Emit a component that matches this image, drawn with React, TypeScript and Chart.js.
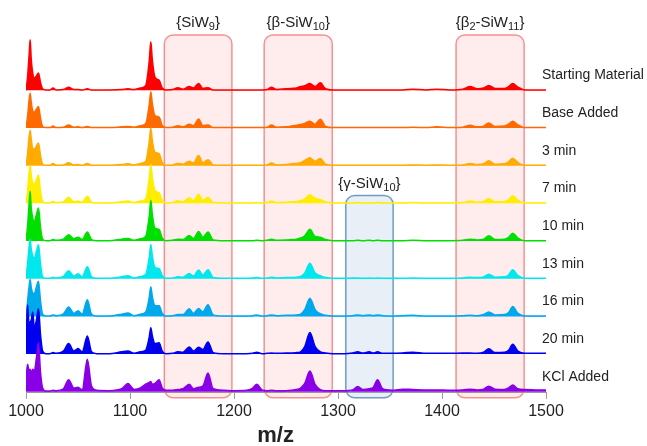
import React, { useEffect, useRef } from "react";
import { Chart, registerables } from "chart.js";
Chart.register(...registerables);

const FONT = "'Liberation Sans', Arial, Helvetica, sans-serif";

// m/z sample positions (shared by all traces)
const mzGrid = [
  1000, 1001.5, 1003, 1004, 1005, 1006.5, 1008, 1010, 1012, 1014, 1016, 1019,
  1023, 1026, 1029, 1036, 1041, 1046, 1050, 1054, 1059, 1063, 1068,
  1080, 1092, 1098, 1104, 1110, 1115, 1118.5, 1120, 1121.5, 1124, 1128, 1131, 1135,
  1141, 1146, 1151, 1157, 1161, 1166, 1170, 1175, 1180, 1190, 1200,
  1212, 1218, 1222, 1227, 1232, 1236, 1241, 1250, 1255, 1260, 1264, 1268, 1273, 1278, 1283, 1288, 1295,
  1306, 1314, 1319, 1324, 1330, 1334, 1338, 1343, 1352, 1362, 1372, 1385, 1395, 1408, 1420,
  1427, 1434, 1440, 1445, 1451, 1460, 1464, 1468, 1473, 1480, 1490, 1500,
];

const seriesLabels = [
  "Starting Material", "Base Added", "3 min", "7 min", "10 min",
  "13 min", "16 min", "20 min", "KCl Added",
];
const seriesColors = [
  "#ff0000", "#ff6a00", "#ffab00", "#ffee00", "#00e000",
  "#00e8ee", "#00a8ec", "#0000f0", "#8a00e6",
];
const seriesOffsets = [8, 7, 6, 5, 4, 3, 2, 1, 0];

// relative intensities (1 = spacing between traces)
const startingMaterial = [
  0, 0.35, 0.95, 1.34, 0.85, 0.45, 0.32, 0.38, 0.46, 0.2, 0.04, 0.01,
  0.01, 0.06, 0.01, 0.02, 0.08, 0.02, 0.02, 0.01, 0.04, 0.01, 0.01,
  0.01, 0.02, 0.04, 0.02, 0.06, 0.12, 0.78, 1.29, 0.8, 0.35, 0.27, 0.06, 0.01,
  0.02, 0.07, 0.03, 0.1, 0.06, 0.18, 0.05, 0.07, 0.01, 0.01, 0.01,
  0.01, 0.01, 0.01, 0.01, 0.02, 0.08, 0.02, 0.04, 0.05, 0.06, 0.1, 0.12, 0.18, 0.1, 0.2, 0.04, 0.01,
  0.01, 0.01, 0.01, 0.01, 0.01, 0.01, 0.01, 0.01, 0.01, 0.01, 0.03, 0.01, 0.03, 0.01, 0.03,
  0.1, 0.04, 0.06, 0.13, 0.05, 0.05, 0.1, 0.18, 0.08, 0.01, 0.01, 0.01,
];
const baseAdded = [
  0, 0.3, 0.75, 0.92, 0.7, 0.45, 0.42, 0.5, 0.57, 0.25, 0.04, 0.01,
  0.01, 0.05, 0.01, 0.02, 0.08, 0.02, 0.03, 0.01, 0.04, 0.01, 0.01,
  0.01, 0.03, 0.04, 0.02, 0.06, 0.11, 0.62, 0.96, 0.64, 0.33, 0.29, 0.07, 0.01,
  0.02, 0.06, 0.03, 0.1, 0.06, 0.24, 0.06, 0.08, 0.01, 0.01, 0.01,
  0.01, 0.01, 0.01, 0.01, 0.02, 0.08, 0.02, 0.03, 0.05, 0.07, 0.09, 0.12, 0.18, 0.1, 0.23, 0.04, 0.01,
  0.01, 0.01, 0.01, 0.01, 0.01, 0.01, 0.01, 0.01, 0.01, 0.01, 0.02, 0.01, 0.03, 0.01, 0.02,
  0.07, 0.03, 0.05, 0.13, 0.04, 0.05, 0.1, 0.18, 0.08, 0.01, 0.01, 0.01,
];
const min3 = [
  0, 0.3, 0.78, 0.94, 0.72, 0.45, 0.44, 0.52, 0.6, 0.26, 0.04, 0.01,
  0.01, 0.06, 0.01, 0.02, 0.08, 0.02, 0.03, 0.01, 0.06, 0.01, 0.01,
  0.01, 0.03, 0.05, 0.02, 0.06, 0.11, 0.64, 1.0, 0.66, 0.36, 0.32, 0.08, 0.01,
  0.02, 0.06, 0.04, 0.12, 0.07, 0.27, 0.08, 0.16, 0.02, 0.01, 0.01,
  0.01, 0.01, 0.01, 0.01, 0.02, 0.07, 0.02, 0.03, 0.05, 0.06, 0.08, 0.14, 0.21, 0.12, 0.19, 0.04, 0.01,
  0.01, 0.01, 0.01, 0.01, 0.01, 0.01, 0.01, 0.01, 0.01, 0.01, 0.02, 0.01, 0.02, 0.01, 0.02,
  0.06, 0.03, 0.05, 0.13, 0.04, 0.05, 0.1, 0.2, 0.08, 0.01, 0.01, 0.01,
];
const min7 = [
  0, 0.3, 0.82, 1.0, 0.78, 0.52, 0.52, 0.62, 0.75, 0.3, 0.05, 0.01,
  0.01, 0.05, 0.02, 0.04, 0.16, 0.04, 0.06, 0.03, 0.19, 0.03, 0.01,
  0.01, 0.04, 0.06, 0.02, 0.06, 0.11, 0.66, 1.04, 0.68, 0.34, 0.28, 0.08, 0.01,
  0.02, 0.07, 0.04, 0.15, 0.07, 0.24, 0.08, 0.16, 0.02, 0.01, 0.01,
  0.01, 0.01, 0.02, 0.01, 0.02, 0.06, 0.02, 0.03, 0.04, 0.05, 0.07, 0.12, 0.23, 0.13, 0.1, 0.04, 0.01,
  0.01, 0.01, 0.02, 0.01, 0.01, 0.01, 0.02, 0.01, 0.01, 0.01, 0.02, 0.01, 0.01, 0.01, 0.02,
  0.06, 0.03, 0.05, 0.13, 0.04, 0.05, 0.1, 0.2, 0.08, 0.01, 0.01, 0.01,
];
const min10 = [
  0, 0.4, 1.0, 1.32, 0.9, 0.6, 0.52, 0.7, 0.88, 0.35, 0.05, 0.01,
  0.01, 0.04, 0.02, 0.05, 0.17, 0.06, 0.1, 0.04, 0.24, 0.04, 0.01,
  0.01, 0.05, 0.07, 0.02, 0.06, 0.12, 0.66, 1.08, 0.7, 0.34, 0.31, 0.08, 0.01,
  0.02, 0.05, 0.04, 0.15, 0.07, 0.25, 0.1, 0.24, 0.03, 0.01, 0.01,
  0.01, 0.01, 0.02, 0.01, 0.02, 0.05, 0.02, 0.03, 0.04, 0.05, 0.08, 0.14, 0.31, 0.12, 0.1, 0.04, 0.01,
  0.01, 0.01, 0.02, 0.01, 0.02, 0.01, 0.02, 0.01, 0.01, 0.01, 0.02, 0.01, 0.01, 0.01, 0.02,
  0.05, 0.03, 0.05, 0.14, 0.04, 0.05, 0.1, 0.21, 0.08, 0.01, 0.01, 0.01,
];
const min13 = [
  0, 0.4, 0.85, 1.04, 0.8, 0.6, 0.55, 0.72, 0.9, 0.38, 0.05, 0.01,
  0.01, 0.04, 0.02, 0.06, 0.21, 0.07, 0.13, 0.05, 0.32, 0.05, 0.01,
  0.01, 0.05, 0.08, 0.02, 0.06, 0.11, 0.56, 0.91, 0.6, 0.3, 0.27, 0.08, 0.01,
  0.02, 0.05, 0.04, 0.14, 0.07, 0.23, 0.1, 0.24, 0.03, 0.01, 0.01,
  0.01, 0.02, 0.03, 0.01, 0.02, 0.04, 0.02, 0.03, 0.03, 0.04, 0.06, 0.15, 0.41, 0.15, 0.08, 0.03, 0.01,
  0.01, 0.02, 0.02, 0.01, 0.02, 0.01, 0.02, 0.01, 0.01, 0.01, 0.02, 0.01, 0.01, 0.01, 0.02,
  0.04, 0.03, 0.05, 0.12, 0.04, 0.05, 0.1, 0.24, 0.08, 0.01, 0.01, 0.01,
];
const min16 = [
  0, 0.4, 0.8, 0.98, 0.78, 0.62, 0.6, 0.78, 0.93, 0.4, 0.06, 0.01,
  0.01, 0.04, 0.02, 0.07, 0.25, 0.08, 0.15, 0.06, 0.44, 0.06, 0.01,
  0.01, 0.06, 0.09, 0.02, 0.06, 0.11, 0.5, 0.79, 0.52, 0.29, 0.28, 0.08, 0.01,
  0.02, 0.05, 0.05, 0.2, 0.08, 0.21, 0.12, 0.31, 0.04, 0.01, 0.01,
  0.01, 0.02, 0.04, 0.01, 0.02, 0.04, 0.02, 0.03, 0.03, 0.04, 0.06, 0.18, 0.48, 0.18, 0.07, 0.03, 0.01,
  0.01, 0.02, 0.04, 0.02, 0.04, 0.02, 0.04, 0.02, 0.01, 0.02, 0.03, 0.01, 0.01, 0.01, 0.02,
  0.03, 0.02, 0.05, 0.12, 0.04, 0.05, 0.1, 0.26, 0.08, 0.01, 0.01, 0.01,
];
const min20 = [
  0.3, 1.3, 0.8, 0.85, 0.9, 1.12, 0.7, 0.9, 1.2, 0.5, 0.08, 0.01,
  0.01, 0.04, 0.02, 0.08, 0.28, 0.08, 0.15, 0.06, 0.48, 0.06, 0.01,
  0.01, 0.06, 0.08, 0.02, 0.06, 0.1, 0.45, 0.7, 0.48, 0.28, 0.3, 0.08, 0.01,
  0.02, 0.06, 0.05, 0.19, 0.08, 0.18, 0.12, 0.32, 0.04, 0.01, 0.01,
  0.01, 0.02, 0.05, 0.01, 0.02, 0.03, 0.02, 0.03, 0.03, 0.04, 0.06, 0.2, 0.57, 0.2, 0.06, 0.03, 0.01,
  0.01, 0.03, 0.06, 0.03, 0.06, 0.03, 0.06, 0.02, 0.02, 0.03, 0.05, 0.02, 0.02, 0.02, 0.03,
  0.03, 0.02, 0.05, 0.14, 0.04, 0.05, 0.1, 0.26, 0.08, 0.02, 0.02, 0.02,
];
const kclAdded = [
  0.3, 0.73, 0.55, 0.6, 0.5, 0.6, 0.55, 0.9, 1.3, 0.5, 0.1, 0.02,
  0.02, 0.04, 0.03, 0.08, 0.32, 0.1, 0.12, 0.05, 0.86, 0.15, 0.04,
  0.03, 0.08, 0.22, 0.06, 0.1, 0.2, 0.25, 0.27, 0.2, 0.22, 0.32, 0.1, 0.04,
  0.04, 0.06, 0.08, 0.2, 0.08, 0.12, 0.15, 0.5, 0.08, 0.04, 0.03,
  0.04, 0.1, 0.2, 0.05, 0.03, 0.04, 0.03, 0.03, 0.04, 0.06, 0.1, 0.22, 0.55, 0.2, 0.06, 0.03, 0.03,
  0.03, 0.05, 0.14, 0.06, 0.08, 0.12, 0.32, 0.08, 0.04, 0.07, 0.06, 0.05, 0.05, 0.04, 0.05,
  0.07, 0.05, 0.07, 0.15, 0.07, 0.06, 0.1, 0.18, 0.08, 0.06, 0.05, 0.05,
];
const seriesValues = [
  startingMaterial, baseAdded, min3, min7, min10, min13, min16, min20, kclAdded,
];

const xTicks = [1000, 1100, 1200, 1300, 1400, 1500];
const xTitle = "m/z";

// highlighted regions: label parts [text, isSubscript]
const regionNames: [string, boolean][][] = [
  [["{SiW", false], ["9", true], ["}", false]],
  [["{β-SiW", false], ["10", true], ["}", false]],
  [["{γ-SiW", false], ["10", true], ["}", false]],
  [["{β", false], ["2", true], ["-SiW", false], ["11", true], ["}", false]],
];
const regionFrom = [1133, 1229, 1307.5, 1413.5];
const regionTo = [1198, 1294.5, 1353, 1479];
const regionTop = [9.47, 9.47, 5.21, 9.47];
const regionBottom = -0.16;
const regionKind = ["pink", "pink", "blue", "pink"];

function drawRich(ctx: CanvasRenderingContext2D, parts: [string, boolean][], cx: number, cy: number, size: number) {
  const main = `${size}px ${FONT}`;
  const sub = `${Math.round(size * 0.7)}px ${FONT}`;
  const widths = parts.map(([t, s]) => {
    ctx.font = s ? sub : main;
    return ctx.measureText(t).width;
  });
  const total = widths.reduce((a, b) => a + b, 0);
  let xp = cx - total / 2;
  ctx.textAlign = "left";
  ctx.textBaseline = "middle";
  ctx.fillStyle = "#222";
  parts.forEach(([t, s], i) => {
    ctx.font = s ? sub : main;
    ctx.fillText(t, xp, s ? cy + size * 0.3 : cy);
    xp += widths[i];
  });
}

const annotPlugin = {
  id: "annot",
  beforeDatasetsDraw(chart: any) {
    const { ctx, scales } = chart;
    const x = scales.x, y = scales.y;
    ctx.save();
    regionFrom.forEach((from, i) => {
      const l = x.getPixelForValue(from);
      const r = x.getPixelForValue(regionTo[i]);
      const t = y.getPixelForValue(regionTop[i]);
      const b = y.getPixelForValue(regionBottom);
      ctx.beginPath();
      ctx.roundRect(l, t, r - l, b - t, 9);
      if (regionKind[i] === "pink") {
        ctx.fillStyle = "rgba(255, 40, 40, 0.09)";
        ctx.strokeStyle = "rgba(245, 110, 110, 0.75)";
      } else {
        ctx.fillStyle = "rgba(150, 180, 220, 0.22)";
        ctx.strokeStyle = "rgba(90, 140, 185, 0.85)";
      }
      ctx.lineWidth = 1.5;
      ctx.fill();
      ctx.stroke();
    });
    ctx.restore();
  },
  afterDraw(chart: any) {
    const { ctx, scales } = chart;
    const x = scales.x, y = scales.y;
    ctx.save();
    regionFrom.forEach((from, i) => {
      const cx = (x.getPixelForValue(from) + x.getPixelForValue(regionTo[i])) / 2;
      const cy = y.getPixelForValue(regionTop[i]) - 12;
      drawRich(ctx, regionNames[i], cx, cy, 15);
    });
    ctx.font = `14px ${FONT}`;
    ctx.fillStyle = "#222";
    ctx.textAlign = "left";
    ctx.textBaseline = "middle";
    seriesLabels.forEach((lab, i) => {
      const py = y.getPixelForValue(seriesOffsets[i]) - 15;
      ctx.fillText(lab, x.right - 4, py);
    });
    // axis title, slightly left of centre as in the reference
    ctx.font = `bold 22px ${FONT}`;
    ctx.textAlign = "center";
    ctx.fillStyle = "#222";
    ctx.fillText(xTitle, x.getPixelForValue(1240), 436);
    ctx.restore();
  },
};

export default function App() {
  const ref = useRef<HTMLCanvasElement>(null);
  useEffect(() => {
    document.body.style.margin = "0";
    const datasets = seriesLabels.map((lab, i) => ({
      label: lab,
      data: mzGrid.map((mz, j) => ({ x: mz, y: seriesOffsets[i] + seriesValues[i][j] })),
      borderColor: seriesColors[i],
      backgroundColor: seriesColors[i],
      borderWidth: 1.5,
      pointRadius: 0,
      cubicInterpolationMode: "monotone",
      fill: { value: seriesOffsets[i] },
      // lower traces are drawn over the ones above them
      order: seriesOffsets[i],
    }));
    const chart = new Chart(ref.current as HTMLCanvasElement, {
      type: "line",
      data: { datasets },
      options: {
        animation: false,
        responsive: false,
        layout: { padding: { left: 26, right: 101, top: 30, bottom: 0 } },
        plugins: { legend: { display: false }, tooltip: { enabled: false } },
        scales: {
          x: {
            type: "linear",
            min: 1000,
            max: 1500,
            afterBuildTicks: (s: any) => {
              s.ticks = xTicks.map((v) => ({ value: v }));
            },
            ticks: {
              font: { size: 16, family: FONT },
              color: "#222",
              padding: 3,
              maxRotation: 0,
              callback: (v: any) => String(v),
            },
            grid: {
              display: true,
              drawOnChartArea: false,
              drawTicks: true,
              tickLength: 6,
              color: "#999",
            },
            border: { display: true, color: "#999", width: 1 },
            title: {
              display: true,
              text: xTitle,
              font: { size: 20, weight: "bold", family: FONT, lineHeight: 1.0 },
              color: "rgba(0,0,0,0)",
              padding: { top: 2, bottom: 0 },
            },
          },
          y: { display: false, min: -0.027, max: 9.6 },
        },
      } as any,
      plugins: [annotPlugin],
    });
    return () => chart.destroy();
  }, []);
  return (
    <div style={{ width: 647, height: 446 }}>
      <canvas ref={ref} width={647} height={446} style={{ display: "block" }} />
    </div>
  );
}
